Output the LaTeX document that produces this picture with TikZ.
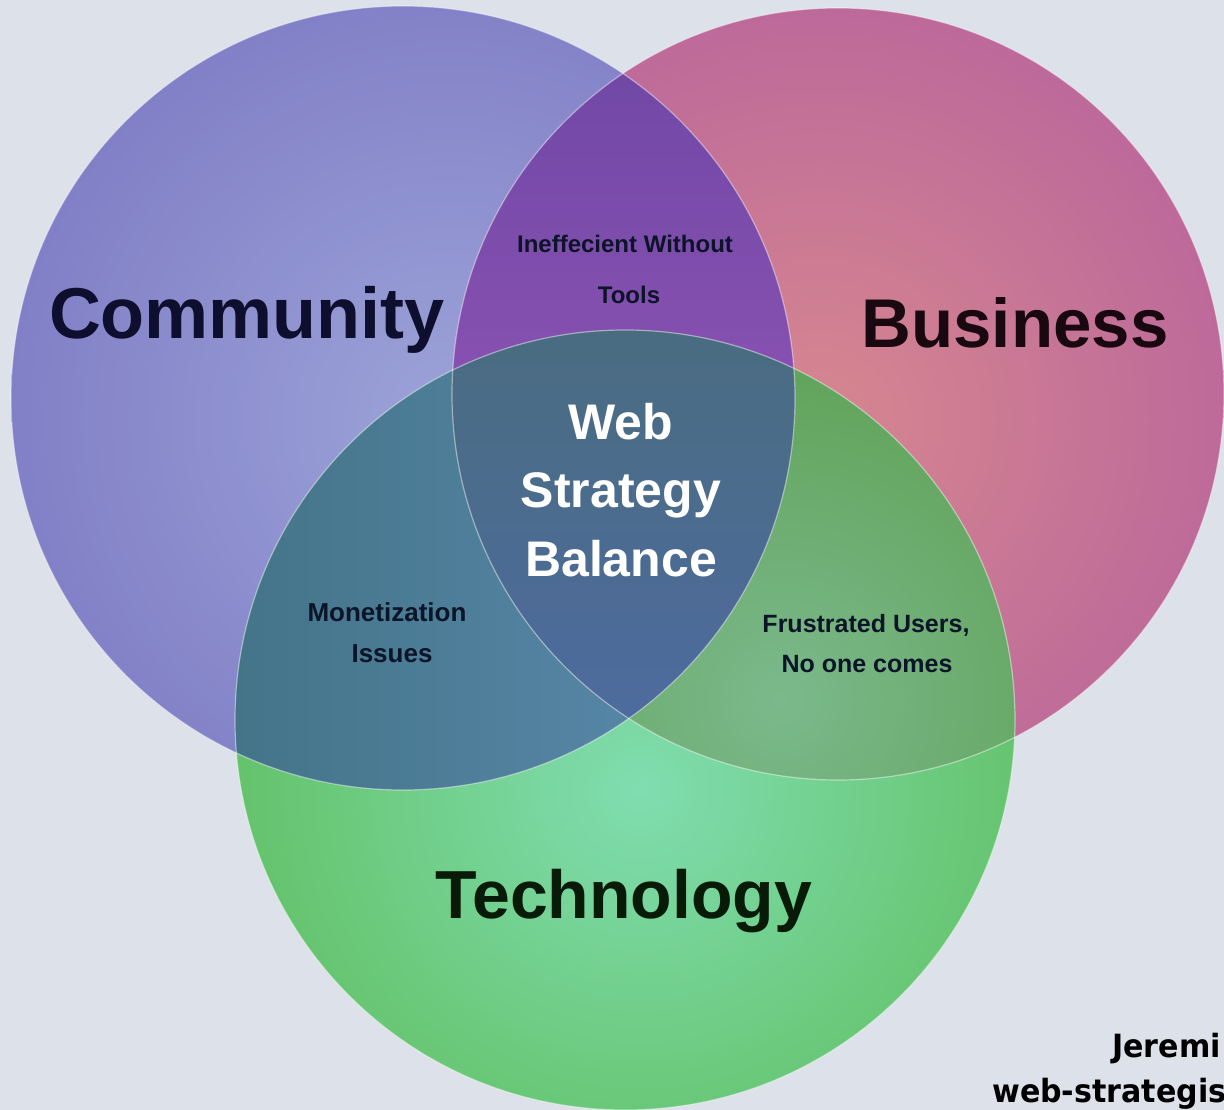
\documentclass[tikz,border=0pt]{standalone}
\usepackage{fontspec}
\setmainfont{Liberation Sans}
\newfontfamily\credfont{DejaVu Sans}
\usepackage{graphicx}
\definecolor{bg}{HTML}{DCE1EA}
\definecolor{comD}{HTML}{7A76C2}
\definecolor{comL}{HTML}{9CA3D8}
\definecolor{busD}{HTML}{B45F9E}
\definecolor{busL}{HTML}{D6878F}
\definecolor{tecD}{HTML}{5CBB57}
\definecolor{tecL}{HTML}{80DDB0}
\definecolor{cbT}{HTML}{6C46A4}
\definecolor{cbB}{HTML}{8A52B2}
\definecolor{ctL}{HTML}{437488}
\definecolor{ctR}{HTML}{5686A6}
\definecolor{btL}{HTML}{7BB98C}
\definecolor{btD}{HTML}{5B9E4E}
\definecolor{midT}{HTML}{4A6C80}
\definecolor{midB}{HTML}{4E6BA0}
\definecolor{comtext}{HTML}{0E0E2E}
\definecolor{bustext}{HTML}{1A0810}
\definecolor{tectext}{HTML}{081A08}
\definecolor{smalltext}{HTML}{0C1428}
\tikzset{
  bigl/.style={inner sep=0pt, anchor=base, font=\fontsize{72}{80}\selectfont\bfseries},
  smalll/.style={inner sep=0pt, anchor=base, text=smalltext, font=\fontsize{24}{28}\selectfont\bfseries},
  credl/.style={inner sep=0pt, anchor=base west, text=black, font=\fontsize{32}{36}\selectfont\credfont\bfseries},
  rim/.style={draw=white, draw opacity=0.45, line width=1.2pt}
}
\begin{document}
\begin{tikzpicture}[x=1pt,y=-1pt]
\useasboundingbox (0,0) rectangle (1224,1110);
\clip (0,0) rectangle (1224,1110);
\fill[bg] (0,0) rectangle (1224,1110);
\coordinate (cc) at (403,398);
\coordinate (bc) at (838,394);
\coordinate (tc) at (625,720);
% Community
\begin{scope}
  \clip (cc) circle[radius=392pt];
  \shade[inner color=comL, outer color=comD] (450,420) circle[radius=560pt];
\end{scope}
% Business
\begin{scope}
  \clip (bc) circle[radius=386pt];
  \shade[inner color=busL, outer color=busD] (820,420) circle[radius=560pt];
\end{scope}
% Technology
\begin{scope}
  \clip (tc) circle[radius=390pt];
  \shade[inner color=tecL, outer color=tecD] (640,790) circle[radius=520pt];
\end{scope}
% Community & Business
\begin{scope}
  \clip (cc) circle[radius=392pt];
  \clip (bc) circle[radius=386pt];
  \shade[top color=cbT, bottom color=cbB] (440,0) rectangle (810,420);
\end{scope}
% Community & Technology
\begin{scope}
  \clip (cc) circle[radius=392pt];
  \clip (tc) circle[radius=390pt];
  \shade[left color=ctL, right color=ctR] (230,320) rectangle (640,800);
\end{scope}
% Business & Technology
\begin{scope}
  \clip (bc) circle[radius=386pt];
  \clip (tc) circle[radius=390pt];
  \shade[inner color=btL, outer color=btD] (780,700) circle[radius=420pt];
\end{scope}
% All three
\begin{scope}
  \clip (cc) circle[radius=392pt];
  \clip (bc) circle[radius=386pt];
  \clip (tc) circle[radius=390pt];
  \shade[top color=midT, bottom color=midB] (440,320) rectangle (810,740);
\end{scope}
\path[rim] (cc) circle[radius=392pt];
\path[rim] (bc) circle[radius=386pt];
\path[rim] (tc) circle[radius=390pt];
% Labels
\node[bigl, text=comtext] (community) at (247,338) {Community};
\node[bigl, text=bustext, font=\fontsize{69}{76}\selectfont\bfseries] (business) at (1015,347) {Business};
\node[bigl, text=tectext, font=\fontsize{68}{76}\selectfont\bfseries] (technology) at (624,918) {Technology};
\node[inner sep=0pt, align=center, text=white, font=\fontsize{50}{68.5}\selectfont\bfseries] (center) at (621,490) {Web\\Strategy\\Balance};
\node[smalll] (ineff) at (625,253) {Ineffecient Without};
\node[smalll] (tools) at (629,303) {Tools};
\node[smalll, font=\fontsize{26}{28}\selectfont\bfseries] (monet) at (387,621) {Monetization};
\node[smalll, font=\fontsize{26}{28}\selectfont\bfseries] (issues) at (392,662) {Issues};
\node[smalll, font=\fontsize{25}{28}\selectfont\bfseries] (frust) at (866,632) {Frustrated Users,};
\node[smalll, font=\fontsize{25}{28}\selectfont\bfseries] (noone) at (867,672) {No one comes};
\node[credl] (author) at (1112,1057) {\scalebox{0.94}[1]{Jeremi}};
\node[credl] (site) at (992,1102) {\scalebox{0.94}[1]{web-strategis}};
\end{tikzpicture}
\end{document}
